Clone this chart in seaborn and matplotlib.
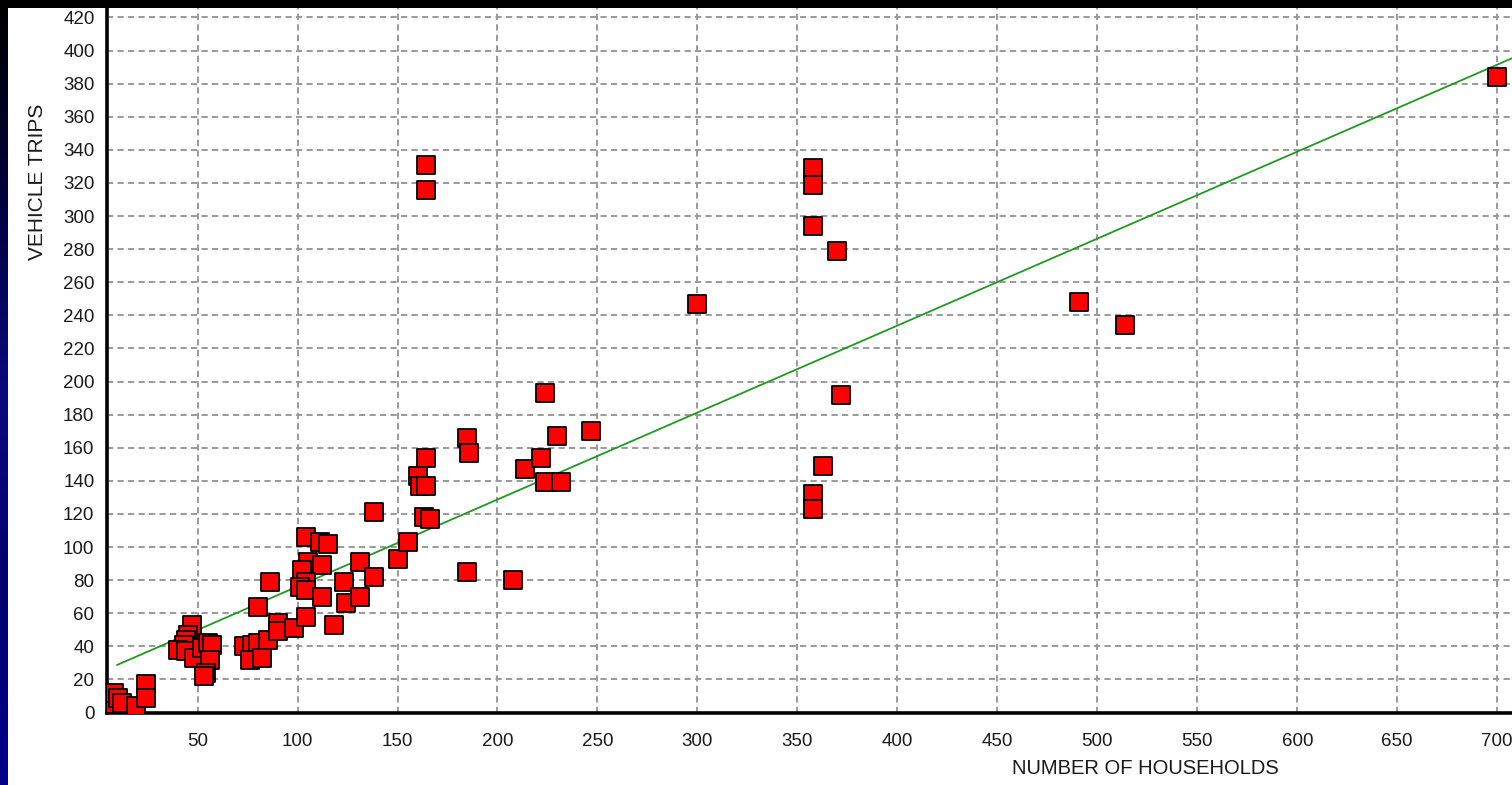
import numpy as np
import pandas as pd
import matplotlib
matplotlib.use("Agg")
import matplotlib.pyplot as plt
from matplotlib.patches import Rectangle
from matplotlib.ticker import MultipleLocator, FixedLocator
import seaborn as sns

# Observed sites: number of households vs. daily vehicle trips
households = [6, 7, 8, 10, 12, 19, 24, 24,
              47, 45, 44, 43, 40, 44, 48, 52, 55, 57, 56, 54, 53,
              73, 77, 80, 85, 76, 82, 80, 86, 90, 90, 98,
              104, 111, 115, 105, 102, 112, 104, 101, 104, 112, 104, 118, 123, 124,
              131, 131, 138, 138, 150, 155,
              160, 161, 164, 164, 163, 166, 164, 164, 185, 186, 185, 208, 214, 222,
              224, 224, 230, 232, 247, 300, 358, 358, 358, 370, 372, 363, 358, 358,
              491, 514, 700]
vehicle_trips = [2, 5, 12, 9, 6, 4, 17, 9,
                 53, 47, 44, 41, 38, 37, 33, 39, 42, 41, 32, 24, 22,
                 40, 41, 42, 44, 32, 33, 64, 79, 54, 49, 51,
                 106, 103, 102, 91, 86, 89, 79, 76, 74, 70, 58, 53, 79, 66,
                 91, 70, 82, 121, 93, 103,
                 143, 137, 137, 154, 118, 117, 331, 316, 166, 157, 85, 80, 147, 154,
                 193, 139, 167, 139, 170, 247, 329, 319, 294, 279, 192, 149, 132, 123,
                 248, 234, 384]

# Fitted trip-rate line: trips = slope * households + intercept
fit_slope = 0.5255
fit_intercept = 23.6
fit_x = [9.7, 712.0]

x_ticks = list(range(50, 701, 50))
y_ticks = list(range(0, 421, 20))

W, H = 1512, 785
sns.set_theme(style="white")
plt.rcParams['font.family'] = ['Liberation Sans', 'DejaVu Sans']

fig = plt.figure(figsize=(W / 100, H / 100), dpi=100, facecolor="white")

ax_left, ax_right = 107, 1512
ax_top, ax_bot = 8, 712.5
ax = fig.add_axes([ax_left / W, 1 - ax_bot / H, (ax_right - ax_left) / W, (ax_bot - ax_top) / H])
ax.set_facecolor("white")

pts = pd.DataFrame({"households": households, "trips": vehicle_trips})
fit = pd.DataFrame({"households": fit_x,
                    "trips": [fit_slope * v + fit_intercept for v in fit_x]})

ax.set_xlim(4.7, 707.4)
ax.set_ylim(0, 425.7)

# dashed grid at the major ticks
ax.xaxis.set_major_locator(FixedLocator(x_ticks))
ax.yaxis.set_major_locator(FixedLocator(y_ticks))
ax.xaxis.set_minor_locator(MultipleLocator(10))
ax.yaxis.set_minor_locator(MultipleLocator(4))
ax.grid(True, which="major", color="#9a9a9a", linestyle=(0, (3.2, 2.2)), linewidth=1.4)
ax.set_axisbelow(True)

sns.lineplot(data=fit, x="households", y="trips", ax=ax, color="#1f9a1f",
             linewidth=1.3, zorder=3)
sns.scatterplot(data=pts, x="households", y="trips", ax=ax, marker="s", s=150,
                color="#ff0000", edgecolor="black", linewidth=1.3, zorder=4,
                clip_on=True)

ax.set_xlabel("")
ax.set_ylabel("")
for side in ("top", "right"):
    ax.spines[side].set_visible(False)
for side in ("left", "bottom"):
    ax.spines[side].set_color("black")
    ax.spines[side].set_linewidth(2.6)

ax.tick_params(axis="both", which="major", direction="out", color="#808080",
               length=7, width=1.0, labelsize=13.5, labelcolor="#1a1a1a", pad=2)
ax.tick_params(axis="x", which="major", length=7, pad=8)
ax.tick_params(axis="both", which="minor", direction="out", color="#808080",
               length=3.5, width=1.0)
ax.set_xticklabels([str(v) for v in x_ticks])
ax.set_yticklabels([str(v) for v in y_ticks])

fig.text(38 / W, 1 - 182 / H, "VEHICLE TRIPS", rotation=90, ha="center",
         va="center", fontsize=15, color="#1a1a1a")
fig.text(1145 / W, 1 - 768 / H, "NUMBER OF HOUSEHOLDS", ha="center",
         va="center", fontsize=14.5, color="#1a1a1a")

# slide frame: black band on top, dark blue strip on the left
fig.patches.append(Rectangle((0, 1 - 8 / H), 1, 8 / H, transform=fig.transFigure,
                             facecolor="black", edgecolor="none", zorder=10))
strip = fig.add_axes([0, 0, 8 / W, 1 - 8 / H])
grad = np.linspace(0, 1, 256).reshape(-1, 1)
cmap = matplotlib.colors.LinearSegmentedColormap.from_list(
    "frame", ["#000000", "#000040", "#0a0a80", "#000070", "#00008a"])
strip.imshow(grad, aspect="auto", cmap=cmap)
strip.set_axis_off()

fig.savefig("out.png", dpi=100, facecolor="white")
